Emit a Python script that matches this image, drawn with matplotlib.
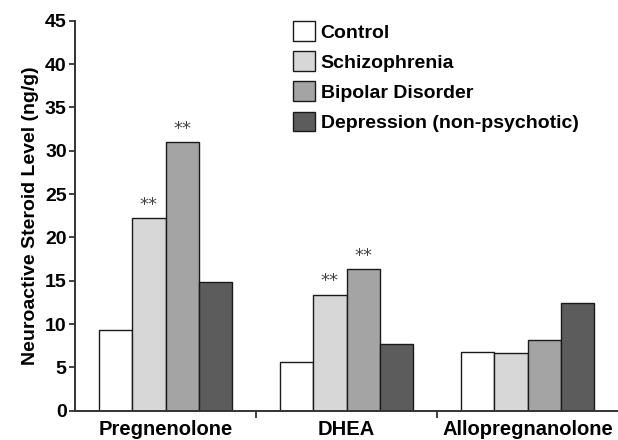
import matplotlib
matplotlib.use("Agg")
import matplotlib.pyplot as plt
import numpy as np

categories = ["Pregnenolone", "DHEA", "Allopregnanolone"]
series_names = ["Control", "Schizophrenia", "Bipolar Disorder", "Depression (non-psychotic)"]
control = [9.3, 5.65, 6.8]
schizophrenia = [22.2, 13.4, 6.6]
bipolar = [31.0, 16.35, 8.1]
depression = [14.8, 7.65, 12.4]
significance_schizophrenia = ["**", "**", ""]
significance_bipolar = ["**", "**", ""]
y_ticks = [0, 5, 10, 15, 20, 25, 30, 35, 40, 45]

colors = ["#ffffff", "#d7d7d7", "#a4a4a4", "#5c5c5c"]

plt.rcParams['font.family'] = ['Liberation Sans', 'DejaVu Sans']

fig = plt.figure(figsize=(6.18, 4.4), dpi=100)
ax = fig.add_axes([0.1214, 0.0666, 0.8786, 0.8864])

x = np.arange(len(categories))
bw = 0.184
all_series = [control, schizophrenia, bipolar, depression]
for i, (vals, name, col) in enumerate(zip(all_series, series_names, colors)):
    ax.bar(x + (i - 1.5) * bw, vals, bw, color=col, edgecolor="#1a1a1a",
           linewidth=1.0, label=name, zorder=2)

for idx, sig in [(1, significance_schizophrenia), (2, significance_bipolar)]:
    for j, s in enumerate(sig):
        if s:
            ax.text(x[j] + (idx - 1.5) * bw, all_series[idx][j] + 0.5, s,
                    ha="center", va="bottom", fontsize=13, color="#444444",
                    family="DejaVu Sans")

ax.set_xlim(-0.5, 2.5)
ax.set_ylim(0, 45)
ax.set_yticks(y_ticks)
ax.set_yticklabels([str(t) for t in y_ticks], fontsize=14, fontweight="bold")
ax.set_xticks(x)
ax.set_xticklabels(categories, fontsize=14.5, fontweight="bold")
ax.tick_params(axis="x", which="major", length=0, pad=7)
ax.set_xticks([0.5, 1.5], minor=True)
ax.tick_params(axis="x", which="minor", length=5, width=1.3, color="#333333", direction="out")
ax.tick_params(axis="y", length=4, width=1.3, color="#333333", direction="out", pad=2)

for s in ["top", "right"]:
    ax.spines[s].set_visible(False)
for s in ["left", "bottom"]:
    ax.spines[s].set_linewidth(1.4)
    ax.spines[s].set_color("#333333")

ax.set_ylabel("Neuroactive Steroid Level (ng/g)", fontsize=14, fontweight="bold", labelpad=4)

leg = ax.legend(loc="upper left", bbox_to_anchor=(0.401, 0.999), frameon=False,
                prop={"weight": "bold", "size": 14}, handlelength=1.13,
                handleheight=1.19, handletextpad=0.3, labelspacing=0.5,
                borderpad=0, borderaxespad=0)

fig.savefig("out.png", dpi=100)
